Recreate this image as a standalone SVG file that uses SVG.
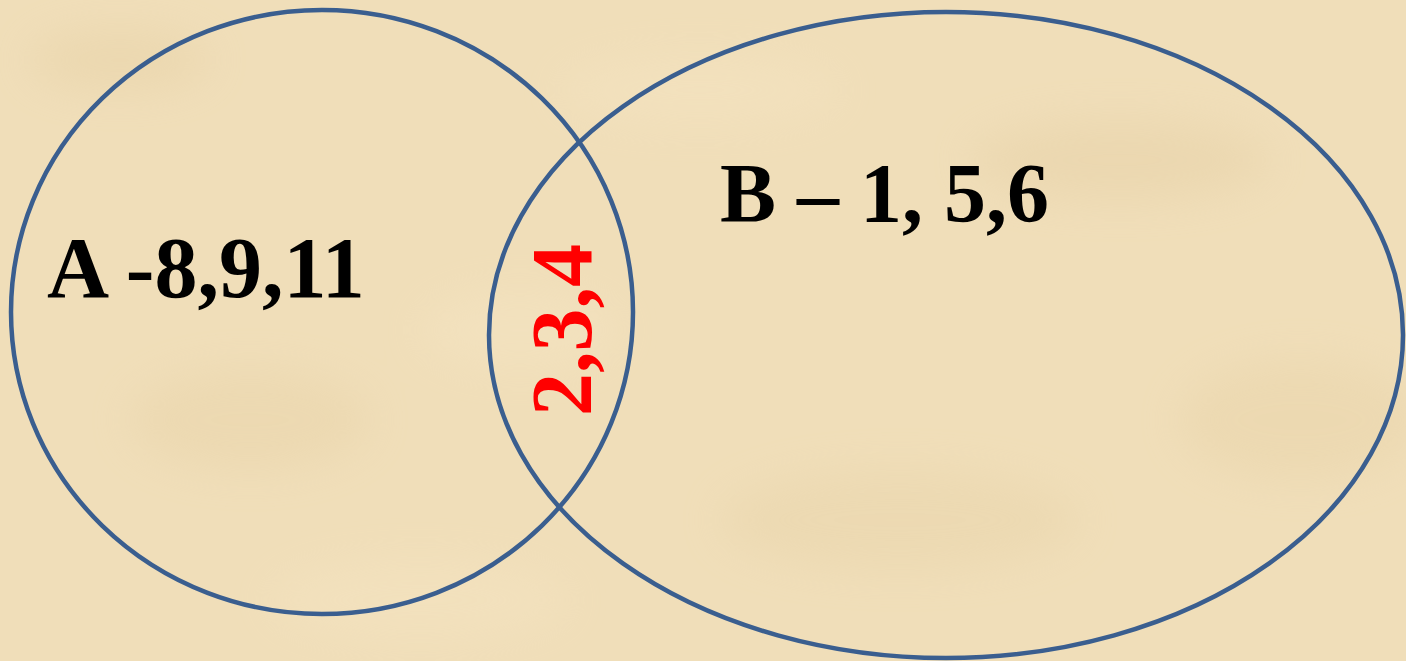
<svg xmlns="http://www.w3.org/2000/svg" width="1406" height="661" viewBox="0 0 1406 661">
<style>
.set{fill:none;stroke:#3a5e8f;stroke-width:4.5}
.lbl{font-family:"Liberation Serif","Times New Roman",serif;font-weight:bold;fill:#000}
.mid{font-family:"Liberation Serif","Times New Roman",serif;font-weight:bold;font-size:86px;fill:#ff0000}
</style>
<defs>
<filter id="blur" x="-20%" y="-20%" width="140%" height="140%"><feGaussianBlur stdDeviation="20"/></filter>
</defs>
<g id="background">
<rect width="1406" height="661" fill="#f0deb9"/>
<g filter="url(#blur)" opacity="0.35">
<ellipse cx="120" cy="60" rx="90" ry="30" fill="#e3cc9f"/>
<ellipse cx="250" cy="420" rx="120" ry="50" fill="#e6d0a4"/>
<ellipse cx="1120" cy="160" rx="150" ry="40" fill="#e3cca0"/>
<ellipse cx="900" cy="520" rx="180" ry="50" fill="#e6d1a6"/>
<ellipse cx="520" cy="330" rx="100" ry="40" fill="#f7e7c6"/>
<ellipse cx="700" cy="90" rx="140" ry="35" fill="#f7e6c4"/>
<ellipse cx="1300" cy="420" rx="120" ry="60" fill="#e6d0a4"/>
<ellipse cx="420" cy="600" rx="150" ry="40" fill="#f7e6c4"/>
</g>
</g>
<g id="setA">
<ellipse class="set" cx="322" cy="312" rx="311" ry="302"/>
<text class="lbl" x="47" y="297" font-size="86">A -8,9,11</text>
</g>
<g id="setB">
<ellipse class="set" cx="946" cy="335" rx="457" ry="323"/>
<text class="lbl" x="720" y="222" font-size="84">B – 1, 5,6</text>
</g>
<g id="intersection">
<text class="mid" x="591" y="416" transform="rotate(-90 591 416)">2,3,4</text>
</g>
</svg>
